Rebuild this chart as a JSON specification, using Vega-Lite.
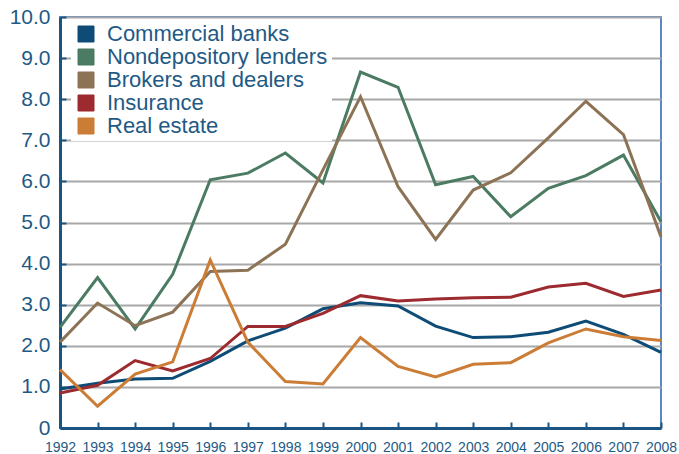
{
  "$schema": "https://vega.github.io/schema/vega-lite/v6.json",
  "width": 601,
  "height": 411,
  "autosize": {"type": "none"},
  "padding": {"left": 60, "top": 17, "right": 18, "bottom": 26},
  "background": "white",
  "config": {
    "view": {"stroke": "#5b87c6", "strokeWidth": 2},
    "font": "Liberation Sans"
  },
  "data": {
    "values": [
      {"year": 1992, "sector": "Commercial banks", "value": 0.95},
      {"year": 1993, "sector": "Commercial banks", "value": 1.09},
      {"year": 1994, "sector": "Commercial banks", "value": 1.19},
      {"year": 1995, "sector": "Commercial banks", "value": 1.21},
      {"year": 1996, "sector": "Commercial banks", "value": 1.62},
      {"year": 1997, "sector": "Commercial banks", "value": 2.12},
      {"year": 1998, "sector": "Commercial banks", "value": 2.43},
      {"year": 1999, "sector": "Commercial banks", "value": 2.9},
      {"year": 2000, "sector": "Commercial banks", "value": 3.05},
      {"year": 2001, "sector": "Commercial banks", "value": 2.97},
      {"year": 2002, "sector": "Commercial banks", "value": 2.48},
      {"year": 2003, "sector": "Commercial banks", "value": 2.2},
      {"year": 2004, "sector": "Commercial banks", "value": 2.22},
      {"year": 2005, "sector": "Commercial banks", "value": 2.33},
      {"year": 2006, "sector": "Commercial banks", "value": 2.6},
      {"year": 2007, "sector": "Commercial banks", "value": 2.28},
      {"year": 2008, "sector": "Commercial banks", "value": 1.84},
      {"year": 1992, "sector": "Nondepository lenders", "value": 2.45},
      {"year": 1993, "sector": "Nondepository lenders", "value": 3.66},
      {"year": 1994, "sector": "Nondepository lenders", "value": 2.41},
      {"year": 1995, "sector": "Nondepository lenders", "value": 3.74},
      {"year": 1996, "sector": "Nondepository lenders", "value": 6.04},
      {"year": 1997, "sector": "Nondepository lenders", "value": 6.2},
      {"year": 1998, "sector": "Nondepository lenders", "value": 6.69},
      {"year": 1999, "sector": "Nondepository lenders", "value": 5.96},
      {"year": 2000, "sector": "Nondepository lenders", "value": 8.66},
      {"year": 2001, "sector": "Nondepository lenders", "value": 8.29},
      {"year": 2002, "sector": "Nondepository lenders", "value": 5.92},
      {"year": 2003, "sector": "Nondepository lenders", "value": 6.12},
      {"year": 2004, "sector": "Nondepository lenders", "value": 5.14},
      {"year": 2005, "sector": "Nondepository lenders", "value": 5.83},
      {"year": 2006, "sector": "Nondepository lenders", "value": 6.14},
      {"year": 2007, "sector": "Nondepository lenders", "value": 6.64},
      {"year": 2008, "sector": "Nondepository lenders", "value": 5.02},
      {"year": 1992, "sector": "Brokers and dealers", "value": 2.09},
      {"year": 1993, "sector": "Brokers and dealers", "value": 3.04},
      {"year": 1994, "sector": "Brokers and dealers", "value": 2.49},
      {"year": 1995, "sector": "Brokers and dealers", "value": 2.82},
      {"year": 1996, "sector": "Brokers and dealers", "value": 3.81},
      {"year": 1997, "sector": "Brokers and dealers", "value": 3.84},
      {"year": 1998, "sector": "Brokers and dealers", "value": 4.47},
      {"year": 1999, "sector": "Brokers and dealers", "value": 6.28},
      {"year": 2000, "sector": "Brokers and dealers", "value": 8.06},
      {"year": 2001, "sector": "Brokers and dealers", "value": 5.87},
      {"year": 2002, "sector": "Brokers and dealers", "value": 4.59},
      {"year": 2003, "sector": "Brokers and dealers", "value": 5.79},
      {"year": 2004, "sector": "Brokers and dealers", "value": 6.21},
      {"year": 2005, "sector": "Brokers and dealers", "value": 7.06},
      {"year": 2006, "sector": "Brokers and dealers", "value": 7.95},
      {"year": 2007, "sector": "Brokers and dealers", "value": 7.14},
      {"year": 2008, "sector": "Brokers and dealers", "value": 4.65},
      {"year": 1992, "sector": "Insurance", "value": 0.85},
      {"year": 1993, "sector": "Insurance", "value": 1.04},
      {"year": 1994, "sector": "Insurance", "value": 1.64},
      {"year": 1995, "sector": "Insurance", "value": 1.39},
      {"year": 1996, "sector": "Insurance", "value": 1.69},
      {"year": 1997, "sector": "Insurance", "value": 2.47},
      {"year": 1998, "sector": "Insurance", "value": 2.47},
      {"year": 1999, "sector": "Insurance", "value": 2.79},
      {"year": 2000, "sector": "Insurance", "value": 3.22},
      {"year": 2001, "sector": "Insurance", "value": 3.09},
      {"year": 2002, "sector": "Insurance", "value": 3.14},
      {"year": 2003, "sector": "Insurance", "value": 3.17},
      {"year": 2004, "sector": "Insurance", "value": 3.18},
      {"year": 2005, "sector": "Insurance", "value": 3.43},
      {"year": 2006, "sector": "Insurance", "value": 3.52},
      {"year": 2007, "sector": "Insurance", "value": 3.2},
      {"year": 2008, "sector": "Insurance", "value": 3.36},
      {"year": 1992, "sector": "Real estate", "value": 1.42},
      {"year": 1993, "sector": "Real estate", "value": 0.53},
      {"year": 1994, "sector": "Real estate", "value": 1.31},
      {"year": 1995, "sector": "Real estate", "value": 1.61},
      {"year": 1996, "sector": "Real estate", "value": 4.09},
      {"year": 1997, "sector": "Real estate", "value": 2.09},
      {"year": 1998, "sector": "Real estate", "value": 1.13},
      {"year": 1999, "sector": "Real estate", "value": 1.07},
      {"year": 2000, "sector": "Real estate", "value": 2.2},
      {"year": 2001, "sector": "Real estate", "value": 1.5},
      {"year": 2002, "sector": "Real estate", "value": 1.24},
      {"year": 2003, "sector": "Real estate", "value": 1.55},
      {"year": 2004, "sector": "Real estate", "value": 1.59},
      {"year": 2005, "sector": "Real estate", "value": 2.07},
      {"year": 2006, "sector": "Real estate", "value": 2.41},
      {"year": 2007, "sector": "Real estate", "value": 2.22},
      {"year": 2008, "sector": "Real estate", "value": 2.13}
    ]
  },
  "mark": {"type": "line", "strokeWidth": 3, "strokeJoin": "miter"},
  "encoding": {
    "x": {
      "field": "year",
      "type": "quantitative",
      "scale": {"domain": [1992, 2008], "nice": false, "zero": false},
      "axis": {
        "title": null,
        "values": [1992,1993,1994,1995,1996,1997,1998,1999,2000,2001,2002,2003,2004,2005,2006,2007,2008],
        "format": "d",
        "grid": false,
        "domainColor": "#1a5482",
        "domainWidth": 3,
        "tickColor": "#1a5482",
        "tickWidth": 2,
        "tickSize": -6,
        "labelPadding": 18,
        "labelFontSize": 14,
        "labelColor": "#1f5a85",
        "labelFlush": false,
        "labelOverlap": false
      }
    },
    "y": {
      "field": "value",
      "type": "quantitative",
      "scale": {"domain": [0, 10], "nice": false},
      "axis": {
        "title": null,
        "values": [0,1,2,3,4,5,6,7,8,9,10],
        "labelExpr": "datum.value == 0 ? '0' : format(datum.value, '.1f')",
        "grid": true,
        "gridColor": "#a8a8a8",
        "gridWidth": 2,
        "domainColor": "#1a5482",
        "domainWidth": 3,
        "tickColor": "#1a5482",
        "tickWidth": 2,
        "tickSize": -6,
        "labelPadding": 16,
        "labelFontSize": 21,
        "labelColor": "#1f5a85",
        "labelFlush": false,
        "labelOverlap": false
      }
    },
    "color": {
      "field": "sector",
      "type": "nominal",
      "scale": {
        "domain": ["Commercial banks", "Nondepository lenders", "Brokers and dealers", "Insurance", "Real estate"],
        "range": ["#0e4c77", "#4b7b62", "#8d7356", "#9c2a2e", "#cc7d35"]
      },
      "legend": {
        "title": null,
        "orient": "none",
        "legendX": 11,
        "legendY": 2,
        "fillColor": "white",
        "padding": 4,
        "symbolType": "square",
        "symbolSize": 256,
        "symbolStrokeWidth": 1,
        "symbolStrokeColor": "#333333",
        "labelFontSize": 22,
        "labelColor": "#1f5a85",
        "labelOffset": 10,
        "rowPadding": 1,
        "labelLimit": 400,
        "encode": {
          "symbols": {
            "update": {
              "fill": {"scale": "color", "field": "value"},
              "fillOpacity": {"value": 1},
              "stroke": {"value": "#2b2b2b"},
              "strokeWidth": {"value": 1}
            }
          }
        }
      }
    }
  }
}
